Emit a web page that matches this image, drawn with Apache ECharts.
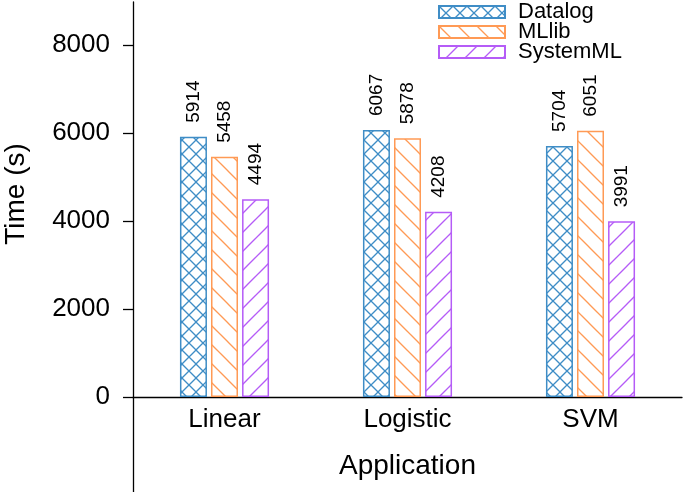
<!DOCTYPE html>
<html>
<head>
<meta charset="utf-8">
<script src="https://cdn.jsdelivr.net/npm/echarts@6/dist/echarts.min.js"></script>
<style>html,body{margin:0;padding:0;background:#fff}#c{width:685px;height:492px}</style>
</head>
<body>
<div id="c"></div>
<script>
const categories = ['Linear', 'Logistic', 'SVM'];
const seriesNames = ['Datalog', 'MLlib', 'SystemML'];
const datalog = [5914, 6067, 5704];
const mllib = [5458, 5878, 6051];
const systemml = [4494, 4208, 3991];
const yTicks = [0, 2000, 4000, 6000, 8000];

const colors = ['#3f8dc6', '#ff9a55', '#b55cf7'];
const FONT = '"Liberation Sans", Arial, Helvetica, sans-serif';

function hatch(color, kind, p) {
  const c = document.createElement('canvas');
  c.width = p; c.height = p;
  const g = c.getContext('2d');
  g.fillStyle = '#fff';
  g.fillRect(0, 0, p, p);
  g.strokeStyle = color;
  g.lineWidth = 1.3;
  const back = () => {
    for (const o of [-p, 0, p]) { g.beginPath(); g.moveTo(o - 1, -1); g.lineTo(o + p + 1, p + 1); g.stroke(); }
  };
  const fwd = () => {
    for (const o of [-p, 0, p]) { g.beginPath(); g.moveTo(o - 1, p + 1); g.lineTo(o + p + 1, -1); g.stroke(); }
  };
  if (kind === 'x') { back(); fwd(); }
  else if (kind === '\\') back();
  else fwd();
  return { image: c, repeat: 'repeat' };
}

const patterns = [hatch(colors[0], 'x', 14), hatch(colors[1], '\\', 19), hatch(colors[2], '/', 19)];
const values = [datalog, mllib, systemml];

const chart = echarts.init(document.getElementById('c'), null, { renderer: 'canvas' });
chart.setOption({
  animation: false,
  backgroundColor: '#fff',
  textStyle: { fontFamily: FONT },
  grid: { left: 133, right: 3, top: 2, bottom: 0, containLabel: false, outerBoundsMode: 'none' },
  legend: {
    orient: 'vertical',
    left: 438, top: 1, padding: 0,
    itemWidth: 66, itemHeight: 12, itemGap: -2,
    icon: 'rect',
    textStyle: { fontSize: 22, color: '#000', padding: [0, 0, 0, 8], fontFamily: FONT },
    data: seriesNames
  },
  xAxis: {
    type: 'category',
    data: categories,
    position: 'bottom',
    offset: -95,
    axisLine: { onZero: false, lineStyle: { color: '#000', width: 1.3 } },
    axisTick: { show: false },
    axisLabel: { color: '#000', fontSize: 26, margin: 10, fontFamily: FONT },
    name: 'Application',
    nameLocation: 'middle',
    nameGap: 55,
    nameTextStyle: { color: '#000', fontSize: 28, fontFamily: FONT },
    splitLine: { show: false }
  },
  yAxis: {
    type: 'value',
    min: -2160, max: 8977,
    axisLine: { show: true, lineStyle: { color: '#000', width: 1.3 } },
    axisTick: { show: true, length: 10, lineStyle: { color: '#000', width: 1.3 }, customValues: yTicks },
    axisLabel: { color: '#000', fontSize: 26, margin: 23, fontFamily: FONT, customValues: yTicks, formatter: v => String(v) },
    splitLine: { show: false }
  },
  graphic: [{
    type: 'text',
    x: 16, y: 194,
    rotation: Math.PI / 2,
    style: { text: 'Time (s)', fontSize: 28, fontFamily: FONT, fill: '#000', align: 'center', verticalAlign: 'middle' }
  }],
  series: seriesNames.map((n, i) => ({
    name: n,
    type: 'bar',
    data: values[i],
    barWidth: 27,
    barGap: '15%',
    itemStyle: { color: patterns[i], borderColor: colors[i], borderWidth: 1.5 },
    label: {
      show: true, position: 'top', distance: 14, rotate: 90,
      align: 'left', verticalAlign: 'middle',
      fontSize: 19, color: '#000', fontFamily: FONT
    }
  }))
});
</script>
</body>
</html>
